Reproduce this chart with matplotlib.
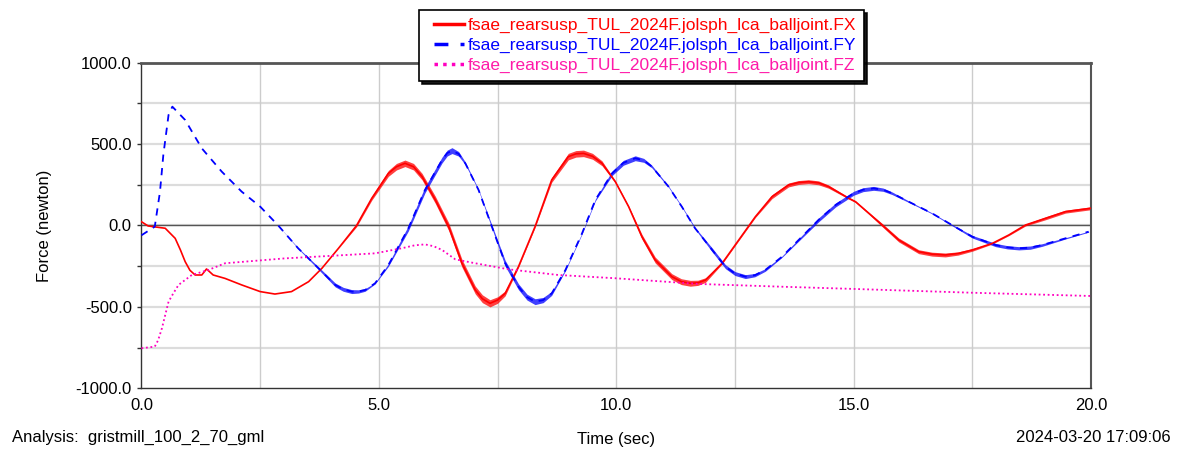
import matplotlib
matplotlib.use("Agg")
import matplotlib.pyplot as plt
from matplotlib.legend_handler import HandlerLine2D
import numpy as np

plt.rcParams['font.family'] = ['Liberation Sans', 'DejaVu Sans']

# values (time in sec, force in newton)
fx_t = [0, 0.14, 0.5, 0.71, 0.82, 0.92, 1.02, 1.13, 1.27, 1.37, 1.51, 1.76, 2.11, 2.5,
        2.81, 3.16, 3.52, 3.8, 4.15, 4.53, 4.85, 5.2, 5.37, 5.55, 5.73, 5.91, 6.19, 6.47,
        6.75, 7.03, 7.18, 7.34, 7.5, 7.66, 7.94, 8.29, 8.64, 8.99, 9.15, 9.31, 9.5, 9.7,
        9.98, 10.26, 10.54, 10.82, 11.17, 11.37, 11.56, 11.72, 11.88, 12.23, 12.58, 12.93,
        13.28, 13.63, 13.84, 14.05, 14.26, 14.47, 14.9, 15.04, 15.32, 15.6, 15.95, 16.37,
        16.65, 16.93, 17.2, 17.5, 17.92, 18.27, 18.62, 19.04, 19.46, 20.0]
fx_v = [23, -3, -17, -79, -150, -222, -275, -304, -304, -267, -304, -325, -365, -406,
        -421, -406, -345, -263, -140, 0, 167, 320, 361, 382, 361, 300, 157, -7,
        -232, -396, -450, -478, -458, -417, -253, -7, 280, 423, 440, 443, 425, 382,
        269, 116, -69, -212, -314, -345, -355, -352, -335, -232, -89, 54,
        177, 249, 264, 269, 262, 239, 167, 146, 75, 3, -89, -161,
        -176, -181, -172, -150, -110, -58, 3, 44, 85, 106]
# half height of the fast ripple band seen around FX
fx_rip = [0, 0, 0, 0, 0, 0, 0, 0, 0, 0, 0, 0, 0, 0,
          0, 0, 0, 0, 0, 8, 12, 18, 20, 20, 20, 20, 22, 24,
          24, 24, 24, 22, 20, 15, 5, 5, 15, 20, 20, 20, 18, 15,
          6, 5, 15, 18, 18, 18, 18, 16, 14, 4, 4, 5,
          12, 12, 12, 12, 12, 10, 5, 5, 6, 10, 12, 12,
          12, 12, 10, 8, 4, 4, 6, 9, 9, 9]

fy_t = [0, 0.28, 0.39, 0.46, 0.57, 0.65, 0.92, 1.27, 1.69, 2.11, 2.5, 2.88, 3.3, 3.73,
        4.08, 4.25, 4.43, 4.57, 4.71, 4.92, 5.2, 5.62, 5.97, 6.33, 6.44, 6.54, 6.68, 6.82,
        7.1, 7.38, 7.66, 7.94, 8.12, 8.29, 8.46, 8.64, 8.93, 9.28, 9.56, 9.91, 10.15, 10.4,
        10.58, 10.75, 11.1, 11.38, 11.66, 12.02, 12.3, 12.5, 12.72, 12.92, 13.14, 13.49,
        13.91, 14.26, 14.62, 15.0, 15.2, 15.42, 15.62, 15.81, 16.23, 16.65, 17.07, 17.5,
        17.99, 18.24, 18.48, 18.72, 18.97, 19.46, 19.95]
fy_v = [-60, -7, 208, 433, 679, 730, 648, 474, 331, 208, 116, 0, -140, -263,
        -365, -392, -406, -405, -396, -355, -243, -18, 218, 402, 445, 460, 440, 382,
        218, -7, -232, -376, -440, -468, -458, -417, -273, -48, 157, 320, 385, 413,
        400, 362, 239, 116, -17, -150, -253, -295, -314, -305, -273, -192,
        -69, 34, 126, 198, 220, 228, 220, 198, 136, 75, 3, -69,
        -120, -134, -140, -136, -120, -79, -38]
fy_rip = [0, 0, 0, 0, 0, 0, 0, 0, 0, 0, 0, 0, 3, 8,
          12, 12, 12, 10, 8, 4, 8, 16, 18, 18, 18, 18, 14, 8,
          4, 10, 18, 18, 18, 18, 16, 12, 5, 4, 6, 14, 15, 15,
          12, 8, 4, 4, 5, 12, 12, 12, 12, 10, 8, 4,
          8, 12, 12, 12, 12, 12, 10, 8, 4, 3, 4, 8,
          10, 10, 10, 10, 8, 4, 3]

fz_t = [0, 0.28, 0.35, 0.43, 0.57, 0.67, 0.78, 1.06, 1.41, 1.76, 2.18, 3.02, 4.08, 4.92,
        5.48, 5.75, 5.97, 6.15, 6.33, 6.61, 7.03, 7.73, 8.78, 9.98, 11.73, 13.49, 15.04,
        17.5, 20.0]
fz_v = [-754, -744, -705, -632, -468, -417, -365, -304, -273, -232, -222, -202, -185, -171,
        -140, -122, -116, -127, -150, -208, -232, -269, -304, -324, -359, -376, -390,
        -413, -433]

names = ['fsae_rearsusp_TUL_2024F.jolsph_lca_balljoint.FX',
         'fsae_rearsusp_TUL_2024F.jolsph_lca_balljoint.FY',
         'fsae_rearsusp_TUL_2024F.jolsph_lca_balljoint.FZ']
c_fx, c_fy, c_fz = '#ff0000', '#0000ff', '#ff00c0'

fig = plt.figure(figsize=(11.8, 4.5), dpi=100)
ax = fig.add_axes([0.1199, 0.1371, 0.8047, 0.7236])

# grid
for yv in np.arange(-750, 1000, 250):
    ax.axhline(yv, color='#dcdcdc', lw=1.6, zorder=0)
for xv in np.arange(2.5, 20, 2.5):
    ax.axvline(xv, color='#cccccc', lw=1.0, zorder=0)
ax.axhline(0, color='#555555', lw=1.0, zorder=1)

# ripple bands
fx_a, fx_r = np.array(fx_v), np.array(fx_rip)
fy_a, fy_r = np.array(fy_v), np.array(fy_rip)
ax.fill_between(fx_t, fx_a - fx_r, fx_a + fx_r, color=c_fx, lw=0, alpha=0.75, zorder=2)
ax.fill_between(fy_t, fy_a - fy_r, fy_a + fy_r, color=c_fy, lw=0, alpha=0.75, zorder=2)

l1, = ax.plot(fx_t, fx_v, color=c_fx, lw=1.2, zorder=3)
l2, = ax.plot(fy_t, fy_v, color=c_fy, lw=1.3, ls=(0, (4, 3.5)), zorder=3)
l3, = ax.plot(fz_t, fz_v, color=c_fz, lw=1.3, ls=(0, (1, 1.5)), zorder=3)

ax.set_xlim(0, 20)
ax.set_ylim(-1000, 1000)
ax.set_xticks(np.arange(0, 20.1, 5))
ax.set_xticklabels(['%.1f' % v for v in np.arange(0, 20.1, 5)])
ax.set_yticks(np.arange(-1000, 1001, 500))
ax.set_yticklabels(['%.1f' % v for v in np.arange(-1000, 1001, 500)])
ax.set_yticks(np.arange(-750, 1000, 500), minor=True)
ax.tick_params(axis='x', length=0, pad=7, labelsize=12)
ax.tick_params(axis='y', which='both', length=3, width=1, pad=4, labelsize=12,
               color='#333333')

for s in ['left', 'bottom']:
    ax.spines[s].set_color('#333333')
    ax.spines[s].set_linewidth(1.0)
ax.spines['top'].set_color('#555555')
ax.spines['top'].set_linewidth(2.0)
ax.spines['right'].set_color('#555555')
ax.spines['right'].set_linewidth(1.5)

ax.set_ylabel('Force (newton)', fontsize=12)
ax.yaxis.set_label_coords(-0.0945, 0.5)
ax.set_xlabel('Time (sec)', fontsize=12, labelpad=14)

fig.text(0.010, 0.027, 'Analysis:  gristmill_100_2_70_gml', fontsize=12, va='center', ha='left')
fig.text(0.992, 0.027, '2024-03-20 17:09:06', fontsize=12, va='center', ha='right')

# xpad pushes the legend sample lines in from the frame's left edge
hmap = {l: HandlerLine2D(xpad=0.4) for l in (l1, l2, l3)}
leg = fig.legend([l1, l2, l3], names, loc='upper center', bbox_to_anchor=(0.544, 0.978),
                 borderaxespad=0, fontsize=12.5, frameon=True, fancybox=False,
                 edgecolor='black', handlelength=2.1, handletextpad=0.25,
                 labelspacing=0.28, borderpad=0.45, handler_map=hmap,
                 shadow={'color': 'black', 'alpha': 0.9})
leg.get_frame().set_linewidth(1.2)
for h in leg.legend_handles:
    h.set_linewidth(2.5)
for txt, c in zip(leg.get_texts(), [c_fx, c_fy, '#ff1aa8']):
    txt.set_color(c)

fig.savefig('out.png', dpi=100)
